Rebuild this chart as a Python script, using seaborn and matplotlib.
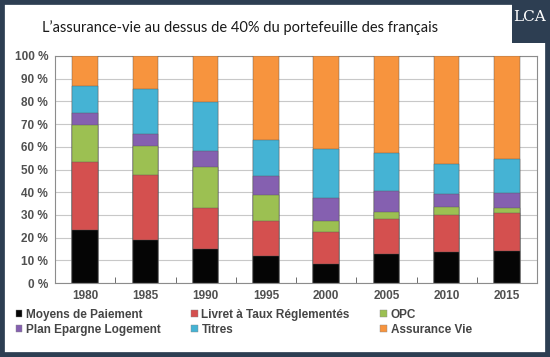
import numpy as np
import pandas as pd
import matplotlib
matplotlib.use("Agg")
import matplotlib.pyplot as plt
from matplotlib.patches import Rectangle, Patch
import seaborn as sns

# data (share of portfolio, %)
years = ["1980", "1985", "1990", "1995", "2000", "2005", "2010", "2015"]
moyens = [23.5, 18.8, 14.9, 11.8, 8.5, 12.6, 13.5, 14.3]
livret = [30.0, 28.7, 18.3, 15.6, 14.0, 15.5, 16.6, 16.7]
opc = [16.0, 12.8, 18.0, 11.4, 5.0, 3.2, 3.4, 2.2]
pel = [5.5, 5.3, 7.0, 8.3, 10.0, 9.1, 5.8, 6.4]
titres = [12.0, 19.8, 21.5, 16.1, 21.5, 17.0, 13.3, 15.1]
assurance = [13.0, 14.6, 20.3, 36.8, 41.0, 42.6, 47.4, 45.3]

names = ["Moyens de Paiement", "Livret à Taux Réglementés", "OPC",
         "Plan Epargne Logement", "Titres", "Assurance Vie"]
colors = ["#050505", "#d4504f", "#9cc052", "#8560b0", "#45b3d4", "#f7943e"]

df = pd.DataFrame({"year": years, names[0]: moyens, names[1]: livret,
                   names[2]: opc, names[3]: pel, names[4]: titres,
                   names[5]: assurance})
cum = df[names].cumsum(axis=1)

navy = "#2d3e52"
fig = plt.figure(figsize=(5.5, 3.57), dpi=100, facecolor="white")

# dark frame and logo box
fig.patches.append(Rectangle((0, 0), 1, 1, transform=fig.transFigure,
                             facecolor="none", edgecolor=navy, linewidth=7, zorder=0))
fig.patches.append(Rectangle((512 / 550, 1 - 43 / 357), 38 / 550, 43 / 357,
                             transform=fig.transFigure, facecolor=navy,
                             edgecolor="none", zorder=1))
fig.text(530 / 550, 1 - 17 / 357, "LCA", color="white", fontsize=11,
         family="DejaVu Serif", ha="center", va="center")

ax = fig.add_axes([55 / 550, 1 - 283 / 357, 482 / 550, 227 / 357])

# stacked bars: draw cumulative totals from the top layer down
for i in range(len(names) - 1, -1, -1):
    sns.barplot(x=df["year"], y=cum[names[i]], color=colors[i], width=0.42,
                ax=ax, saturation=1, edgecolor="#555555", linewidth=0.3, zorder=3)

ax.set_xlim(-0.5, len(years) - 0.5)
ax.set_ylim(0, 100)
ax.set_yticks(np.arange(0, 101, 10))
ax.set_yticklabels([f"{v} %" for v in range(0, 101, 10)])
ax.grid(axis="y", color="#c8c8c8", linewidth=0.8, zorder=0)
ax.set_axisbelow(True)
ax.set_xlabel("")
ax.set_ylabel("")
for s in ax.spines.values():
    s.set_color("#8c8c8c")
    s.set_linewidth(0.8)

ax.tick_params(axis="both", length=0, labelsize=8.5, labelcolor="#505050", pad=5)
ax.set_xticks(np.arange(0.5, len(years) - 1, 1), minor=True)
ax.tick_params(axis="x", which="minor", direction="in", length=4, color="#555555")
for lab in ax.get_xticklabels() + ax.get_yticklabels():
    lab.set_fontweight("bold")
    lab.set_family("Liberation Sans")

fig.text(240 / 550, 1 - 28 / 357,
         "L’assurance-vie au dessus de 40% du portefeuille des français",
         ha="center", va="center", fontsize=10.5, family="Lato", color="#1a1a1a")

order = [0, 3, 1, 4, 2, 5]
handles = [Patch(facecolor=colors[i], edgecolor="#888888", linewidth=0.3) for i in order]
leg = fig.legend(handles, [names[i] for i in order], ncol=3,
                 loc="upper left", bbox_to_anchor=(10 / 550, 1 - 303 / 357),
                 frameon=False, handlelength=0.55, handleheight=0.55,
                 handletextpad=0.3, columnspacing=2.6, labelspacing=0.25,
                 borderpad=0, prop={"family": "Liberation Sans", "weight": "bold",
                                    "size": 8.5})
for t in leg.get_texts():
    t.set_color("#454545")

fig.savefig("out.png", dpi=100, facecolor="white")
